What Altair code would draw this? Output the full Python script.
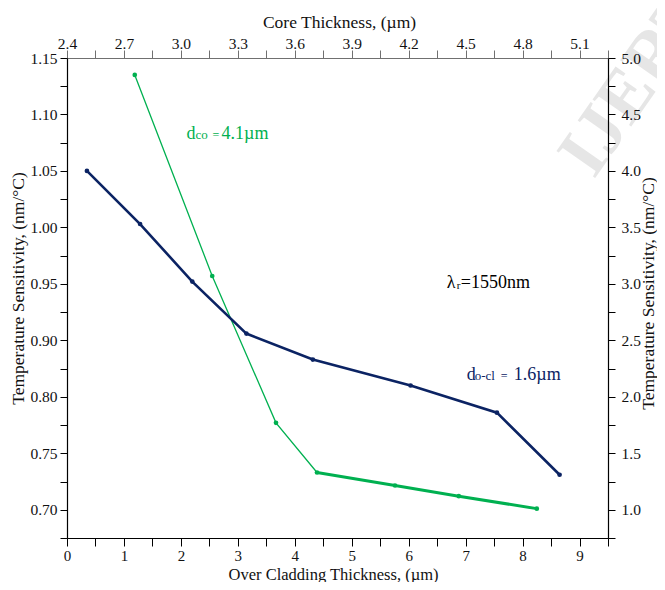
import json
import altair as alt
import pandas as pd

# ---------------- data ----------------
# green series: over-cladding thickness sweep (d_co = 4.1 um)
OVER_CLAD = [1.19, 2.55, 3.67, 4.39, 5.76, 6.88, 8.25]
GREEN_SENS = [4.85, 3.07, 1.77, 1.33, 1.215, 1.12, 1.01]
# navy series: core thickness sweep (d_o-cl = 1.6 um)
CORE = [2.505, 2.785, 3.06, 3.345, 3.695, 4.21, 4.665, 4.995]
NAVY_SENS = [4.0, 3.53, 3.02, 2.56, 2.33, 2.10, 1.86, 1.31]

# axis tick positions / labels
BOTTOM_TICKS = [i * 0.5 for i in range(20)]                 # 0 .. 9.5
TOP_TICKS = [round(2.4 + 0.15 * i, 2) for i in range(20)]   # 2.4 .. 5.25
Y_TICKS = [round(0.75 + 0.25 * i, 2) for i in range(18)]    # 0.75 .. 5.0
LEFT_TICK_LABELS = ["0.70", "0.75", "0.80", "0.90", "0.95", "1.00", "1.05", "1.10", "1.15"]

# annotations (x in over-cladding units, y in sensitivity units)
ANN_DCO = (2.10, 4.28)
ANN_LAMBDA = (6.67, 2.965)
ANN_DOCL = (7.02, 2.15)
WATERMARK = (9.25, 3.92)

FONT = "Liberation Serif"
GREEN = "#00B050"
NAVY = "#0B2363"

green = pd.DataFrame({"x": OVER_CLAD, "y": GREEN_SENS})
green_thin = green.iloc[0:4]
green_thick = green.iloc[3:]
navy = pd.DataFrame({"x": CORE, "y": NAVY_SENS})


def axis_style(**kw):
    base = dict(
        grid=False, labelFont=FONT, titleFont=FONT, labelFontSize=15.5, titleFontSize=17.5,
        titleFontWeight="normal", labelColor="#111", titleColor="#111",
        labelOverlap=False, labelFlush=False, zindex=1, tickWidth=1, domainWidth=1.2,
    )
    base.update(kw)
    return alt.Axis(**base)


x_bottom = alt.X(
    "x:Q",
    scale=alt.Scale(domain=[0, 9.5], nice=False, zero=False),
    axis=axis_style(
        orient="bottom", title="Over Cladding Thickness, (µm)", values=BOTTOM_TICKS,
        labelExpr="(datum.value % 1 == 0 && datum.value < 9.25) ? format(datum.value, 'd') : ''",
        tickSize=8, labelPadding=2, labelFontSize=15, titleFontSize=16.5,
        domainColor="#000", tickColor="#000",
        titleX=266, titleY=41, titleBaseline="alphabetic", titleAlign="center",
    ),
)

left_expr = (
    "(datum.value >= 0.99 && abs(datum.value * 2 - round(datum.value * 2)) < 0.01) ? "
    + json.dumps(LEFT_TICK_LABELS).replace('"', "'")
    + "[round(datum.value * 2) - 2] : ''"
)
y_left = alt.Y(
    "y:Q",
    scale=alt.Scale(domain=[0.75, 5.0], nice=False, zero=False),
    axis=axis_style(
        orient="left", title="Temperature Sensitivity, (nm/°C)", values=Y_TICKS,
        labelExpr=left_expr, tickSize=7, labelPadding=3,
        domainColor="#000", tickColor="#000",
        titleAngle=270, titleX=-44, titleY=230, titleBaseline="alphabetic", titleAlign="center",
    ),
)

x_top = alt.X(
    "x:Q",
    scale=alt.Scale(domain=[2.4, 5.25], nice=False, zero=False),
    axis=axis_style(
        orient="top", title="Core Thickness, (µm)", values=TOP_TICKS,
        labelExpr="(abs((datum.value - 2.4) / 0.3 - round((datum.value - 2.4) / 0.3)) < 0.02 && datum.value < 5.2) ? format(datum.value, '.1f') : ''",
        tickSize=8, labelPadding=-1, domainColor="#707070", tickColor="#707070",
        titleX=272, titleY=-31, titleBaseline="alphabetic", titleAlign="center",
    ),
)

y_right = alt.Y(
    "y:Q",
    scale=alt.Scale(domain=[0.75, 5.0], nice=False, zero=False),
    axis=axis_style(
        orient="right", title="Temperature Sensitivity, (nm/°C)", values=Y_TICKS,
        labelExpr="(datum.value >= 0.99 && abs(datum.value * 2 - round(datum.value * 2)) < 0.01) ? format(datum.value, '.1f') : ''",
        tickSize=7, labelPadding=6, domainColor="#000", tickColor="#000",
        titleAngle=270, titleX=45, titleY=235, titleBaseline="alphabetic", titleAlign="center",
    ),
)


def piece(pos, txt, dx, size, color, dy=0):
    df = pd.DataFrame({"x": [pos[0]], "y": [pos[1]], "t": [txt]})
    return alt.Chart(df).mark_text(
        align="left", baseline="alphabetic", dx=dx, dy=dy, fontSize=size,
        font=FONT, color=color,
    ).encode(x=x_bottom, y=y_left, text="t:N")


watermark = alt.Chart(
    pd.DataFrame({"x": [WATERMARK[0]], "y": [WATERMARK[1]], "t": ["IJERT"]})
).mark_text(
    align="left", baseline="alphabetic", angle=305, fontSize=72, fontWeight="bold",
    font=FONT, color="#e6e6e6",
).encode(x=x_bottom, y=y_left, text="t:N")

g_thin = alt.Chart(green_thin).mark_line(color=GREEN, strokeWidth=1.3).encode(x=x_bottom, y=y_left)
g_thick = alt.Chart(green_thick).mark_line(color=GREEN, strokeWidth=3).encode(x=x_bottom, y=y_left)
g_pts = alt.Chart(green).mark_circle(color=GREEN, size=22, opacity=1).encode(x=x_bottom, y=y_left)

texts = [
    piece(ANN_DCO, "d", 0, 18, GREEN),
    piece(ANN_DCO, "co", 9, 13, GREEN),
    piece(ANN_DCO, "=", 26, 12, GREEN),
    piece(ANN_DCO, "4.1µm", 35, 18, GREEN),
    piece(ANN_LAMBDA, "λ", 0, 18, "#000"),
    piece(ANN_LAMBDA, "r", 10, 11, "#000", dy=1),
    piece(ANN_LAMBDA, "=1550nm", 14, 18, "#000"),
    piece(ANN_DOCL, "d", 0, 18, NAVY),
    piece(ANN_DOCL, "o-cl", 8, 13, NAVY),
    piece(ANN_DOCL, "=", 34, 12, NAVY),
    piece(ANN_DOCL, "1.6µm", 47, 18, NAVY),
]

layer_a = alt.layer(watermark, g_thin, g_thick, g_pts, *texts)

n_line = alt.Chart(navy).mark_line(color=NAVY, strokeWidth=2.6).encode(x=x_top, y=y_right)
n_pts = alt.Chart(navy).mark_circle(color=NAVY, size=22, opacity=1).encode(x=x_top, y=y_right)
layer_b = alt.layer(n_line, n_pts)

chart = alt.layer(layer_a, layer_b).resolve_scale(
    x="independent", y="independent"
).properties(
    width=541, height=480,
    padding={"left": 59, "top": 50, "right": 49, "bottom": 44},
    autosize=alt.AutoSizeParams(type="none"),
    background="white",
).configure_view(stroke=None)

chart.save("out.html", embed_options={"renderer": "svg", "actions": False})
